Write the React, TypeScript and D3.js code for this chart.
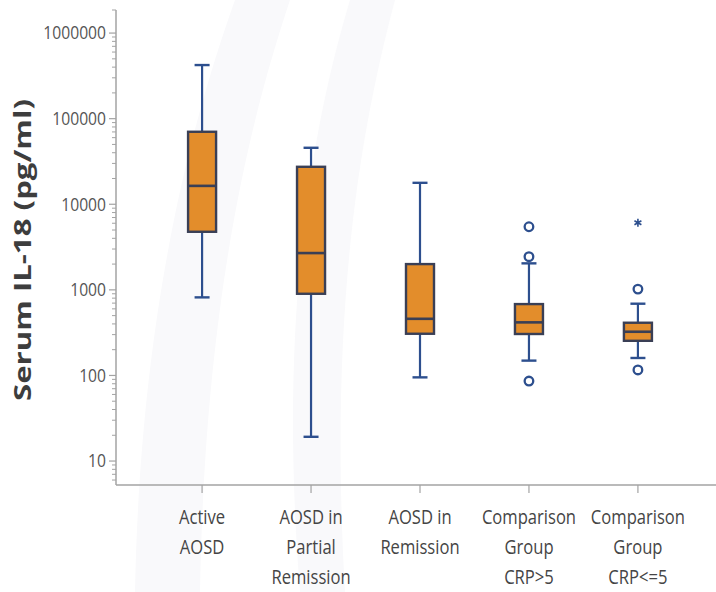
import React from "react";
import * as d3 from "d3";

const categories: string[][] = [
  ["Active", "AOSD"],
  ["AOSD in", "Partial", "Remission"],
  ["AOSD in", "Remission"],
  ["Comparison", "Group", "CRP>5"],
  ["Comparison", "Group", "CRP<=5"],
];
const whiskerLow = [817, 19.2, 95, 149, 160];
const q1 = [4770, 900, 307, 305, 254];
const median = [16400, 2690, 459, 417, 324];
const q3 = [70300, 27400, 2000, 682, 413];
const whiskerHigh = [423000, 45700, 17800, 2040, 689];
const outliers: number[][] = [[], [], [], [86, 2440, 5460], [116, 1020]];
const extremes: number[][] = [[], [], [], [], [6080]];
const yTicks = [10, 100, 1000, 10000, 100000, 1000000];
const yLabel = "Serum IL-18 (pg/ml)";

const W = 716;
const H = 592;
const AX = 116;
const BOTTOM = 485;
const TOP = 10;

const BOX_FILL = "#E38D2B";
const BOX_STROKE = "#3a3f55";
const WHISK = "#2d4f8e";
const AXIS = "#a3a3a3";

export default function App() {
  const idx = categories.map((_, i) => i);
  const x = d3.scalePoint<number>().domain(idx).range([AX, 724]).padding(0.79);
  const y = d3.scaleLog().domain([5.25, 1.86e6]).range([BOTTOM, TOP]);
  const [dmin, dmax] = y.domain();
  const minor: number[] = [];
  for (let k = 0; k <= 6; k++) {
    for (let m = 2; m <= 9; m++) {
      const v = m * Math.pow(10, k);
      if (v >= dmin && v <= dmax) minor.push(v);
    }
  }
  const boxW = 28;
  const capW = 15;
  const star = d3.symbol().type(d3.symbolAsterisk).size(45)() as string;

  return (
    <svg
      width={W}
      height={H}
      style={{ position: "absolute", left: 0, top: 0, background: "#fff" }}
      fontFamily="'Open Sans', sans-serif"
    >
      {/* faint background swooshes */}
      <g fill="#f9f9fb">
        <path d="M235,0 L290,0 C250,120 205,300 200,592 L135,592 C140,330 185,140 235,0 Z" />
        <path d="M350,0 L395,0 C355,150 330,330 345,592 L300,592 C280,340 305,150 350,0 Z" />
      </g>

      {/* y axis */}
      <line x1={AX} x2={AX} y1={y(dmax)} y2={BOTTOM} stroke={AXIS} strokeWidth={1.5} />
      {minor.map((v) => (
        <line key={"m" + v} x1={AX - 4} x2={AX} y1={y(v)} y2={y(v)} stroke={AXIS} strokeWidth={1} />
      ))}
      {yTicks.map((v) => (
        <g key={"t" + v} transform={`translate(0,${y(v)})`}>
          <line x1={AX - 7} x2={AX} stroke={AXIS} strokeWidth={1.2} />
          <text
            transform={`translate(${AX - 10},0) scale(0.87,1)`}
            textAnchor="end"
            dy="0.35em"
            fontSize={18}
            fill="#555"
          >
            {String(v)}
          </text>
        </g>
      ))}
      <line x1={AX - 4} x2={AX} y1={y(dmax)} y2={y(dmax)} stroke={AXIS} strokeWidth={1} />

      {/* y label */}
      <text
        transform={`translate(31,250) rotate(-90) scale(1,0.74)`}
        textAnchor="middle"
        fontSize={31}
        fontWeight="bold"
        fill="#3d3d3d"
        textLength={302}
        lengthAdjust="spacingAndGlyphs"
      >
        {yLabel}
      </text>

      {/* x axis */}
      <line x1={AX} x2={W} y1={BOTTOM} y2={BOTTOM} stroke={AXIS} strokeWidth={1.5} />
      {idx.map((i) => (
        <g key={"x" + i} transform={`translate(${x(i)},0)`}>
          <line y1={BOTTOM} y2={BOTTOM + 8} stroke={AXIS} strokeWidth={1.2} />
          {categories[i].map((ln, j) => (
            <text
              key={j}
              transform={`translate(0,${524 + j * 30}) scale(0.83,1)`}
              textAnchor="middle"
              fontSize={20}
              fill="#454545"
            >
              {ln}
            </text>
          ))}
        </g>
      ))}

      {/* boxes */}
      {idx.map((i) => {
        const cx = x(i) as number;
        return (
          <g key={"b" + i}>
            <line x1={cx} x2={cx} y1={y(whiskerHigh[i])} y2={y(q3[i])} stroke={WHISK} strokeWidth={2.2} />
            <line x1={cx} x2={cx} y1={y(q1[i])} y2={y(whiskerLow[i])} stroke={WHISK} strokeWidth={2.2} />
            <line x1={cx - capW / 2} x2={cx + capW / 2} y1={y(whiskerHigh[i])} y2={y(whiskerHigh[i])} stroke={WHISK} strokeWidth={2.4} />
            <line x1={cx - capW / 2} x2={cx + capW / 2} y1={y(whiskerLow[i])} y2={y(whiskerLow[i])} stroke={WHISK} strokeWidth={2.4} />
            <rect
              x={cx - boxW / 2}
              width={boxW}
              y={y(q3[i])}
              height={y(q1[i]) - y(q3[i])}
              fill={BOX_FILL}
              stroke={BOX_STROKE}
              strokeWidth={2.4}
            />
            <line x1={cx - boxW / 2} x2={cx + boxW / 2} y1={y(median[i])} y2={y(median[i])} stroke={BOX_STROKE} strokeWidth={2.6} />
            {outliers[i].map((v, k) => (
              <circle key={"o" + k} cx={cx} cy={y(v)} r={4.3} fill="none" stroke={WHISK} strokeWidth={2.3} />
            ))}
            {extremes[i].map((v, k) => (
              <path key={"e" + k} d={star} transform={`translate(${cx},${y(v)})`} fill="none" stroke={WHISK} strokeWidth={1.6} />
            ))}
          </g>
        );
      })}
    </svg>
  );
}
